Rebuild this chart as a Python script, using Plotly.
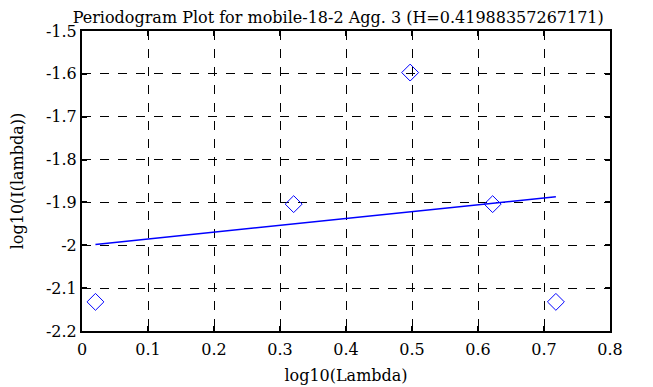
import plotly.graph_objects as go

# Periodogram points
pts_x = [0.0204, 0.3207, 0.4972, 0.6222, 0.7180]
pts_y = [-2.132, -1.904, -1.597, -1.904, -2.132]

# Fitted line endpoints
line_x = [0.0204, 0.7180]
line_y = [-1.998, -1.887]

x_ticks = [0, 0.1, 0.2, 0.3, 0.4, 0.5, 0.6, 0.7, 0.8]
x_labels = ["0", "0.1", "0.2", "0.3", "0.4", "0.5", "0.6", "0.7", "0.8"]
y_ticks = [-2.2, -2.1, -2.0, -1.9, -1.8, -1.7, -1.6, -1.5]
y_labels = ["-2.2", "-2.1", "-2", "-1.9", "-1.8", "-1.7", "-1.6", "-1.5"]

title = "Periodogram Plot for mobile-18-2 Agg. 3 (H=0.41988357267171)"

fig = go.Figure()
fig.add_trace(go.Scatter(x=line_x, y=line_y, mode="lines",
                         line=dict(color="#0000ff", width=1.5), showlegend=False))
fig.add_trace(go.Scatter(x=pts_x, y=pts_y, mode="markers",
                         marker=dict(symbol="diamond-open", size=13,
                                     color="#0000ff", line=dict(width=1)),
                         showlegend=False))

font = dict(family="DejaVu Serif", size=16, color="black")
title_font = dict(family="DejaVu Serif", size=16, color="black")
axis_common = dict(showline=True, linecolor="black", linewidth=2, mirror="allticks",
                   ticks="inside", ticklen=5, tickwidth=2, tickcolor="black",
                   showgrid=True, gridcolor="black", gridwidth=1, griddash="dash",
                   zeroline=False, tickfont=font, automargin=False)

fig.update_xaxes(range=[0, 0.8], tickvals=x_ticks, ticktext=x_labels,
                 ticklabelstandoff=3,
                 title=dict(text="log10(Lambda)", font=font, standoff=12), **axis_common)
fig.update_yaxes(range=[-2.2, -1.5], tickvals=y_ticks, ticktext=y_labels,
                 title=dict(text="log10(I(lambda))", font=font, standoff=26), **axis_common)

fig.update_layout(
    width=645, height=379,
    margin=dict(l=74, r=43, t=23, b=56),
    paper_bgcolor="white", plot_bgcolor="white",
    font=font,
    title=dict(text=title, x=0.512, xanchor="center", y=0.99, yanchor="top",
               pad=dict(t=0), font=title_font),
)

fig.write_html("out.html")
